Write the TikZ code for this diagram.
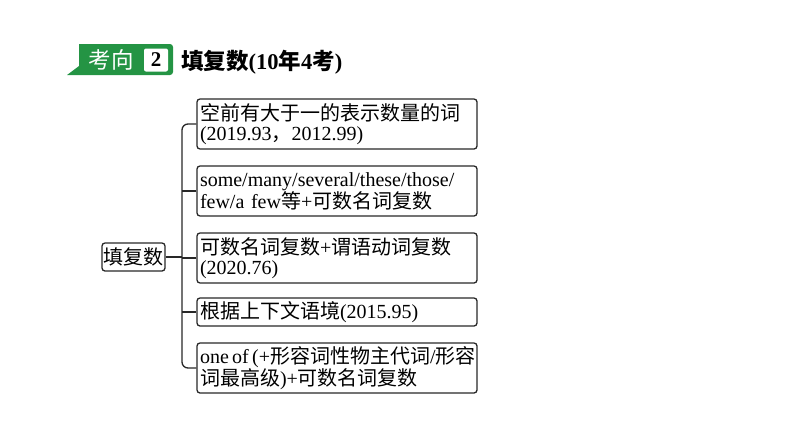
\documentclass[tikz,border=0pt]{standalone}
\usepackage{fontspec}
\setmainfont{Liberation Serif}
\newfontfamily\cjk{Noto Sans CJK SC}
\definecolor{tabgreen}{RGB}{36,148,68}
\definecolor{linegray}{RGB}{40,40,40}
\begin{document}
\begin{tikzpicture}[x=1pt,y=-1pt]
\useasboundingbox (0,0) rectangle (794,447);
\fill[tabgreen, rounded corners=3pt] (79,44) -- (173,44) -- (173,75) [sharp corners] -- (67,75) -- (79,66) -- cycle;
\node[fill=white, rounded corners=2pt, minimum width=24pt, minimum height=23pt, inner sep=0pt] (num) at (156,60) {\fontsize{21}{21}\selectfont\bfseries 2};
\node[text=white, inner sep=0pt] (tag) at (111,60) {\fontsize{22.5}{22.5}\selectfont\cjk 考向};
\node[anchor=west, inner sep=0pt] (title) at (181,62) {\fontsize{22.5}{22.5}\selectfont\bfseries{\cjk 填复数}(10{\cjk 年}4{\cjk 考})};
\begin{scope}[every node/.style = {draw=linegray, line width=1.3pt, rounded corners=3pt, align=left, inner sep=0pt, font=\fontsize{20}{20}\selectfont}]
\node[text width=274pt, minimum width=280pt, minimum height=50pt] (b1) at (337,124) {{\cjk 空前有大于一的表示数量的词}\\(2019.93{\cjk ，}2012.99)};
\node[text width=274pt, minimum width=280pt, minimum height=50pt] (b2) at (337,191) {some/many/several/these/those/\\few/a few{\cjk 等}+{\cjk 可数名词复数}};
\node[text width=274pt, minimum width=280pt, minimum height=50pt] (b3) at (337,258) {{\cjk 可数名词复数}+{\cjk 谓语动词复数}\\(2020.76)};
\node[text width=274pt, minimum width=280pt, minimum height=28pt] (b4) at (337,312) {{\cjk 根据上下文语境}(2015.95)};
\node[text width=274pt, minimum width=280pt, minimum height=50pt] (b5) at (337,368) {one\,of\,(+{\cjk 形容词性物主代词}/{\cjk 形容}\\{\cjk 词最高级})+{\cjk 可数名词复数}};
\node[align=center, minimum width=63pt, minimum height=28pt] (root) at (133.5,257) {\cjk 填复数};
\end{scope}
\coordinate (spine) at (182,257);
\begin{scope}[every path/.style = {draw=linegray, line width=1.3pt}]
\draw[rounded corners=6pt] (b1.west) -- (b1.west -| spine) -- (b5.west -| spine) -- (b5.west);
\draw (root.east) -- (spine);
\draw (b2.west) -- (b2.west -| spine);
\draw (b3.west) -- (b3.west -| spine);
\draw (b4.west) -- (b4.west -| spine);
\end{scope}
\end{tikzpicture}
\end{document}
